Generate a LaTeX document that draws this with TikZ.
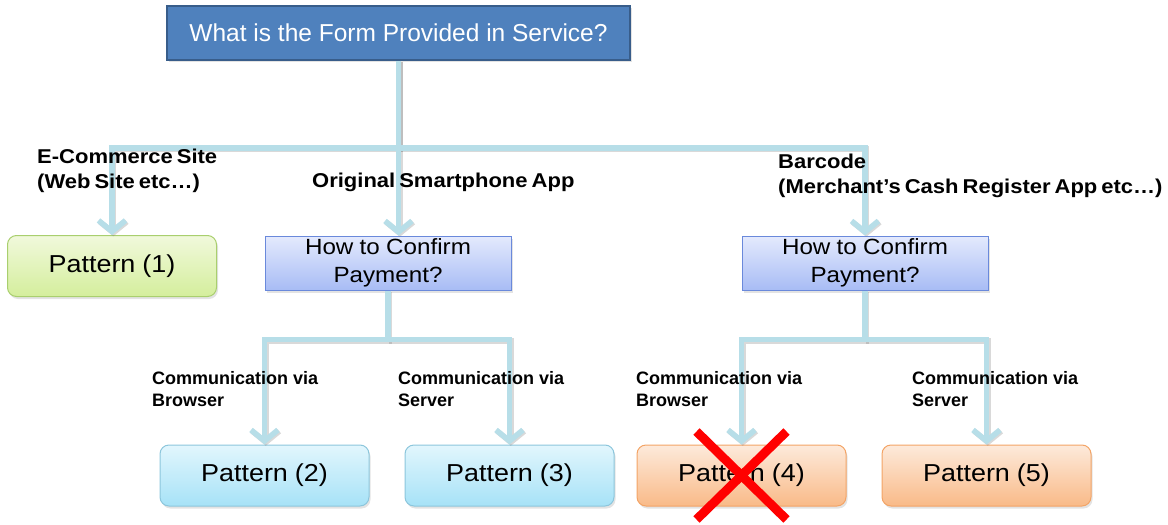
\documentclass[tikz,border=0pt]{standalone}
\usepackage{fontspec}
\setmainfont{Liberation Sans}
\newfontfamily\widefont{Liberation Sans}[FakeStretch=1.1]
\newfontfamily\labelfont{Liberation Sans}[FakeStretch=1.1]
\usetikzlibrary{arrows.meta,shadows}

% fixed interword space for the stretched faces
\newcommand\wordgap[1]{\spaceskip=#1\relax}

\definecolor{titlefill}{HTML}{4F81BD}
\definecolor{titleedge}{HTML}{385D8A}
\definecolor{linkblue}{HTML}{B7DEE8}
\definecolor{greentop}{HTML}{F1F9DC}
\definecolor{greenbot}{HTML}{D4EE9C}
\definecolor{greenedge}{HTML}{A9CF6E}
\definecolor{cyantop}{HTML}{E2F6FD}
\definecolor{cyanbot}{HTML}{A6E2F7}
\definecolor{cyanedge}{HTML}{8CC6DC}
\definecolor{orangetop}{HTML}{FDEADB}
\definecolor{orangebot}{HTML}{F9BA88}
\definecolor{orangeedge}{HTML}{F3A466}
\definecolor{querytop}{HTML}{E4EAFD}
\definecolor{querybot}{HTML}{A8BCF5}
\definecolor{queryedge}{HTML}{6A89DB}

% connectors of the decision tree, drawn once per style
\newcommand\treelinks[1]{%
  \draw[#1] (top.south) -- ++(0,-87) coordinate (hub) -| (p1.north);
  \draw[#1] (hub) -| (how2.north);
  \draw[#1] (top.south) -- (top.south |- how1.north);
  \draw[#1] (how1.south) -- ++(0,-49) coordinate (hubL) -| (p2.north);
  \draw[#1] (hubL) -| (p3.north);
  \draw[#1] (how2.south) -- ++(0,-49) coordinate (hubR) -| (p4.north);
  \draw[#1] (hubR) -| (p5.north);
}

\begin{document}
\begin{tikzpicture}[x=1pt,y=1pt,
  box/.style={draw, line width=1pt, inner sep=0pt, align=center,
    drop shadow={shadow xshift=1.5pt, shadow yshift=-2.5pt, opacity=0.22}},
  titlebox/.style={draw=titleedge, line width=1.6pt, fill=titlefill, inner sep=0pt,
    minimum width=463pt, minimum height=54pt, text=white,
    font=\fontsize{24.5}{29}\selectfont,
    drop shadow={shadow xshift=1.5pt, shadow yshift=-2pt, opacity=0.22}},
  pattern/.style={box, rounded corners=9pt, minimum width=209pt, minimum height=61pt,
    font=\widefont\fontsize{24.5}{29}\selectfont\wordgap{7pt}},
  greenbox/.style={pattern, draw=greenedge, top color=greentop, bottom color=greenbot},
  cyanbox/.style={pattern, draw=cyanedge, top color=cyantop, bottom color=cyanbot},
  orangebox/.style={pattern, draw=orangeedge, top color=orangetop, bottom color=orangebot},
  query/.style={box, draw=queryedge, top color=querytop, bottom color=querybot,
    minimum width=246pt, minimum height=54pt,
    font=\widefont\fontsize{22}{28}\selectfont\wordgap{6.3pt}},
  conn/.style={line width=5.5pt, draw=linkblue, -{Straight Barb[length=11pt,width=27pt]}},
  connshade/.style={conn, draw=black!50, opacity=0.3,
    transform canvas={shift={(1.3pt,-1.3pt)}}},
  biglabel/.style={anchor=north west, inner sep=0pt, align=left,
    font=\labelfont\bfseries\fontsize{20}{25}\selectfont\wordgap{4pt}},
  smalllabel/.style={anchor=north west, inner sep=0pt, align=left,
    font=\bfseries\fontsize{18}{22}\selectfont},
  cross/.style={draw=red, line width=9pt}
]
\useasboundingbox (0,0) rectangle (1168,-525);

% boxes
\node[titlebox] (top) at (398.5,-33) {What is the Form Provided in Service?};
\node[greenbox] (p1) at (112,-266) {Pattern (1)};
\node[query] (how1) at (388,-263) {How to Confirm\\Payment?};
\node[query] (how2) at (865,-263) {How to Confirm\\Payment?};
\node[cyanbox] (p2) at (264.5,-475.5) {Pattern (2)};
\node[cyanbox] (p3) at (509.5,-475.5) {Pattern (3)};
\node[orangebox] (p4) at (741.5,-475.5) {Pattern (4)};
\node[orangebox] (p5) at (986.5,-475.5) {Pattern (5)};

% connectors: soft shadow first, then the blue strokes
\treelinks{connshade}
\treelinks{conn}

% branch labels
\node[biglabel] (lecom) at (37,-149) {E-Commerce Site\\(Web Site etc…)};
\node[biglabel] (lapp) at (312,-172.5) {Original Smartphone App};
\node[biglabel] (lbar) at (778,-153.5) {Barcode\\(Merchant’s Cash Register App etc…)};
\node[smalllabel] (lb1) at (152,-371) {Communication via\\Browser};
\node[smalllabel] (ls1) at (398,-371) {Communication via\\Server};
\node[smalllabel] (lb2) at (636,-371) {Communication via\\Browser};
\node[smalllabel] (ls2) at (912,-371) {Communication via\\Server};

% rejected option
\draw[cross] ([shift={(-45,44)}]p4.center) -- ([shift={(45,-44)}]p4.center);
\draw[cross] ([shift={(45,44)}]p4.center) -- ([shift={(-45,-44)}]p4.center);
\end{tikzpicture}
\end{document}
